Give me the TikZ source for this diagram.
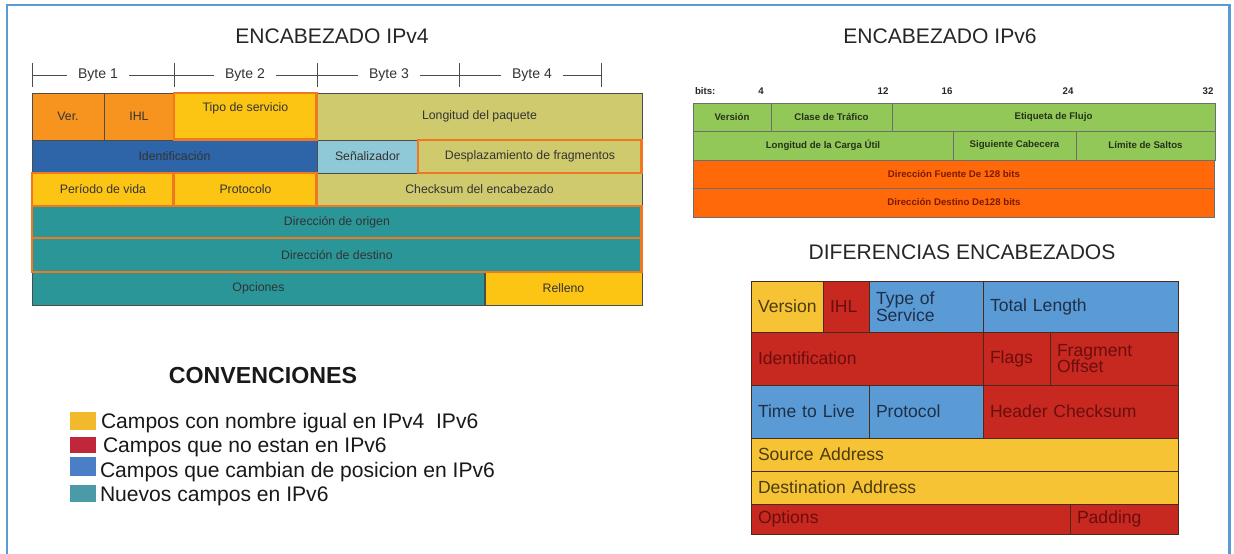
\documentclass[tikz,border=0pt]{standalone}
\usepackage{fontspec}
\setmainfont{Liberation Sans}
\usetikzlibrary{positioning,calc}

% IPv4 colours
\definecolor{v4orange}{HTML}{F79420}
\definecolor{v4yellow}{HTML}{FCC514}
\definecolor{v4khaki}{HTML}{CFCA6E}
\definecolor{v4blue}{HTML}{2E64A8}
\definecolor{v4light}{HTML}{8FC8D6}
\definecolor{v4teal}{HTML}{2A9698}
\definecolor{v4mark}{HTML}{F07820}
% IPv6 colours
\definecolor{v6green}{HTML}{92C858}
\definecolor{v6orange}{HTML}{FF690A}
\definecolor{v6line}{HTML}{6E6E6E}
\definecolor{v6gtext}{HTML}{26321A}
\definecolor{v6otext}{HTML}{7A1A00}
% comparison colours
\definecolor{dyellow}{HTML}{F6C334}
\definecolor{dred}{HTML}{C7281F}
\definecolor{dblue}{HTML}{5B9BD5}
\definecolor{dline}{HTML}{4A2A1A}
\definecolor{dytext}{HTML}{4A3B12}
\definecolor{drtext}{HTML}{6B0E0E}
\definecolor{dbtext}{HTML}{1E2F48}
% legend colours
\definecolor{lyellow}{HTML}{F2B92C}
\definecolor{lred}{HTML}{C0273A}
\definecolor{lblue}{HTML}{4A7FC8}
\definecolor{lteal}{HTML}{4A9AA8}
\definecolor{framecol}{HTML}{5B9BD5}

\begin{document}
\begin{tikzpicture}[x=0.02cm, y=-0.02cm,
      every node/.style={inner sep=0pt, outer sep=0pt},
      title/.style={font=\fontsize{12}{14}\selectfont, text=black!85},
      v4cell/.style={anchor=north west, draw=black!70, line width=0.5pt, text=black!80,
        font=\fontsize{7}{8}\selectfont},
      v4mark/.style={v4cell, draw=v4mark, line width=1.7pt},
      bytelbl/.style={inner xsep=0.22cm, font=\fontsize{8}{9}\selectfont, text=black!80},
      v6cell/.style={anchor=north west, draw=v6line, line width=0.5pt, fill=v6green,
        text=v6gtext, font=\fontsize{5.5}{6}\selectfont\bfseries},
      v6addr/.style={v6cell, fill=v6orange, text=v6otext},
      bitlbl/.style={anchor=base, text=black!85, font=\fontsize{5.5}{6}\selectfont\bfseries},
      dcell/.style={anchor=north west, draw=dline, line width=0.4pt, align=left,
        inner xsep=0.14cm, font=\fontsize{10}{9.5}\selectfont},
      dy/.style={dcell, fill=dyellow, text=dytext},
      dr/.style={dcell, fill=dred, text=drtext},
      db/.style={dcell, fill=dblue, text=dbtext},
      legsq/.style={anchor=north west, minimum width=0.52cm},
      legtxt/.style={anchor=base west, font=\fontsize{12}{13}\selectfont, text=black!90}]

  \useasboundingbox (0,0) rectangle (1234,554);
  \draw[framecol, line width=1.7pt] (7,570) -- (7,5) -- (1229,5) -- (1229,570);

  % titles
  \node[title] (tit4) at (332,36) {ENCABEZADO IPv4};
  \node[title] (tit6) at (940,36) {ENCABEZADO IPv6};
  \node[title] (titd) at (962,252) {DIFERENCIAS ENCABEZADOS};

  % byte ruler
  \foreach \x [count=\i from 0] in {32,174,317,459,601}
    \coordinate (t\i) at (\x,75);
  \foreach \i in {0,...,4}
    \draw[black!70, line width=0.5pt] ($(t\i)+(0,-12)$) -- ($(t\i)+(0,12)$);
  \node[bytelbl] (b1) at (98,75) {Byte 1};
  \node[bytelbl] (b2) at (245,75) {Byte 2};
  \node[bytelbl] (b3) at (389,75) {Byte 3};
  \node[bytelbl] (b4) at (532,75) {Byte 4};
  \draw[black!70, line width=0.5pt] (t0) -- (b1.west) (b1.east) -- (t1)
    (t1) -- (b2.west) (b2.east) -- (t2)
    (t2) -- (b3.west) (b3.east) -- (t3)
    (t3) -- (b4.west) (b4.east) -- (t4);

  % IPv4 header, plain cells
  \node[v4cell, fill=v4orange, minimum width=1.44cm, minimum height=0.94cm] (ver4) at (32,93) {Ver.};
  \node[v4cell, fill=v4orange, minimum width=1.40cm, minimum height=0.94cm] (ihl4) at (104,93) {IHL};
  \node[v4cell, fill=v4khaki, minimum width=6.50cm, minimum height=0.94cm] (len4) at (317,93) {Longitud del paquete};
  \node[v4cell, fill=v4blue, minimum width=5.70cm, minimum height=0.66cm] (id4) at (32,140) {Identificación};
  \node[v4cell, fill=v4light, minimum width=2.02cm, minimum height=0.66cm] (flag4) at (317,140) {Señalizador};
  \node[v4cell, fill=v4khaki, minimum width=6.50cm, minimum height=0.66cm] (csum4) at (317,173) {Checksum del encabezado};
  \node[v4cell, fill=v4teal, minimum width=9.06cm, minimum height=0.66cm] (opt4) at (32,272) {Opciones};
  \node[v4cell, fill=v4yellow, minimum width=3.14cm, minimum height=0.66cm] (pad4) at (485,272) {Relleno};
  % IPv4 header, marked cells
  \node[v4mark, fill=v4yellow, minimum width=2.86cm, minimum height=0.94cm,
    label={[anchor=north, yshift=-0.2cm, font=\fontsize{7}{8}\selectfont, text=black!80]north:Tipo de servicio}] (tos4) at (174,93) {};
  \node[v4mark, fill=v4khaki, minimum width=4.48cm, minimum height=0.66cm] (frag4) at (418,140) {Desplazamiento de fragmentos};
  \node[v4mark, fill=v4yellow, minimum width=2.84cm, minimum height=0.66cm] (ttl4) at (32,173) {Período de vida};
  \node[v4mark, fill=v4yellow, minimum width=2.86cm, minimum height=0.66cm] (proto4) at (174,173) {Protocolo};
  \node[v4mark, fill=v4teal, minimum width=12.20cm, minimum height=0.64cm] (src4) at (32,206) {Dirección de origen};
  \node[v4mark, fill=v4teal, minimum width=12.20cm, minimum height=0.68cm] (dst4) at (32,238) {Dirección de destino};

  % IPv6 header
  \node[bitlbl, anchor=base west] (bits) at (695,94) {bits:};
  \node[bitlbl] (n4) at (761,94) {4};
  \node[bitlbl] (n12) at (883,94) {12};
  \node[bitlbl] (n16) at (947,94) {16};
  \node[bitlbl] (n24) at (1068,94) {24};
  \node[bitlbl] (n32) at (1208,94) {32};
  \node[v6cell, minimum width=1.56cm, minimum height=0.56cm] (ver6) at (693,103) {Versión};
  \node[v6cell, minimum width=2.42cm, minimum height=0.56cm] (cls6) at (771,103) {Clase de Tráfico};
  \node[v6cell, minimum width=6.46cm, minimum height=0.56cm] (flow6) at (892,103) {Etiqueta de Flujo};
  \node[v6cell, minimum width=5.20cm, minimum height=0.58cm] (plen6) at (693,131) {Longitud de la Carga Útil};
  \node[v6cell, minimum width=2.46cm, minimum height=0.58cm] (next6) at (953,131) {Siguiente Cabecera};
  \node[v6cell, minimum width=2.78cm, minimum height=0.58cm] (hop6) at (1076,131) {Límite de Saltos};
  \node[v6addr, minimum width=10.44cm, minimum height=0.56cm] (src6) at (693,160) {Dirección Fuente De 128 bits};
  \node[v6addr, minimum width=10.44cm, minimum height=0.58cm] (dst6) at (693,188) {Dirección Destino De128 bits};

  % comparison table
  \node[dy, text width=1.16cm, minimum height=1.02cm] (verd) at (751,281) {Version};
  \node[dr, text width=0.64cm, minimum height=1.02cm] (ihld) at (823,281) {IHL};
  \node[db, text width=2.00cm, minimum height=1.02cm] (tosd) at (869,281) {Type of\\Service};
  \node[db, text width=3.62cm, minimum height=1.02cm] (lend) at (983,281) {Total Length};
  \node[dr, text width=4.36cm, minimum height=1.06cm] (idd) at (751,332) {Identification};
  \node[dr, text width=1.06cm, minimum height=1.06cm] (flgd) at (983,332) {Flags};
  \node[dr, text width=2.28cm, minimum height=1.06cm] (fragd) at (1050,332) {Fragment\\Offset};
  \node[db, text width=2.08cm, minimum height=1.06cm] (ttld) at (751,385) {Time to Live};
  \node[db, text width=2.00cm, minimum height=1.06cm] (protd) at (869,385) {Protocol};
  \node[dr, text width=3.62cm, minimum height=1.06cm] (csumd) at (983,385) {Header Checksum};
  \node[dy, text width=8.26cm, minimum height=0.66cm] (srcd) at (751,438) {Source Address};
  \node[dy, text width=8.26cm, minimum height=0.66cm] (dstd) at (751,471) {Destination Address};
  \node[dr, text width=6.10cm, minimum height=0.60cm] (optd) at (751,504) {Options};
  \node[dr, text width=1.88cm, minimum height=0.60cm] (padd) at (1070,504) {Padding};

  % legend
  \node[font=\fontsize{13.2}{15}\selectfont\bfseries, text=black!90] (conv) at (263,376) {CONVENCIONES};
  \node[legsq, fill=lyellow, minimum height=0.36cm] (sq1) at (70,412) {};
  \node[legsq, fill=lred, minimum height=0.32cm] (sq2) at (70,437) {};
  \node[legsq, fill=lblue, minimum height=0.38cm] (sq3) at (70,457) {};
  \node[legsq, fill=lteal, minimum height=0.34cm] (sq4) at (70,485) {};
  \node[legtxt] (lt1) at (101,428) {Campos con nombre igual en IPv4\ \ IPv6};
  \node[legtxt] (lt2) at (103,452) {Campos que no estan en IPv6};
  \node[legtxt] (lt3) at (100,477) {Campos que cambian de posicion en IPv6};
  \node[legtxt] (lt4) at (100,501) {Nuevos campos en IPv6};
\end{tikzpicture}
\end{document}
